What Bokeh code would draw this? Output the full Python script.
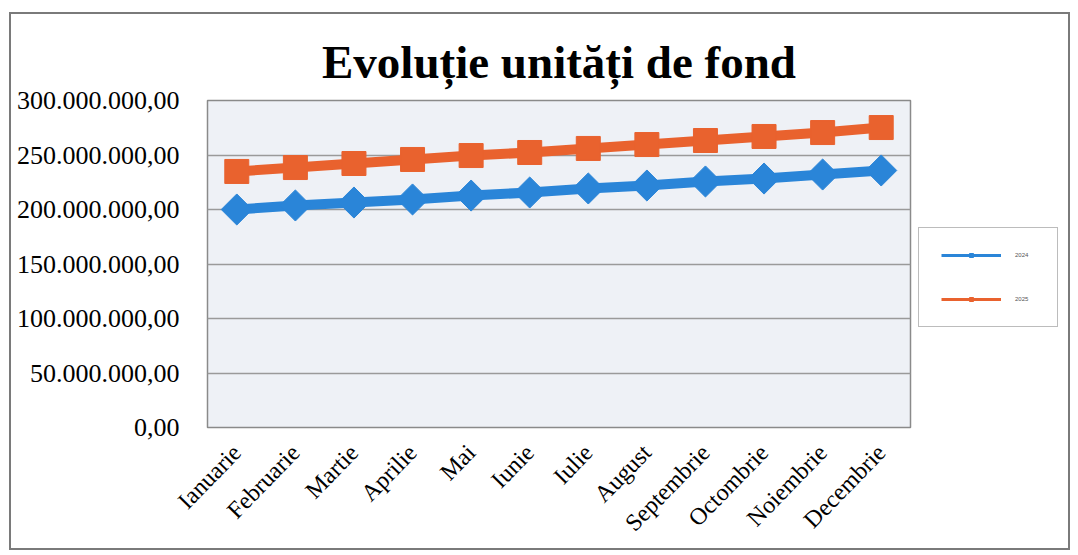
import math
from bokeh.plotting import figure
from bokeh.layouts import row
from bokeh.models import FixedTicker, Legend, LegendItem, ColumnDataSource
from bokeh.embed import file_html
from bokeh.resources import INLINE

months = ["Ianuarie", "Februarie", "Martie", "Aprilie", "Mai", "Iunie",
          "Iulie", "August", "Septembrie", "Octombrie", "Noiembrie", "Decembrie"]
s2024 = [200.0e6, 203.7e6, 206.4e6, 209.2e6, 212.8e6, 215.6e6,
         219.3e6, 222.0e6, 225.7e6, 228.4e6, 232.1e6, 235.8e6]
s2025 = [234.9e6, 238.5e6, 242.2e6, 245.9e6, 249.5e6, 252.3e6,
         256.0e6, 259.6e6, 263.3e6, 267.0e6, 270.6e6, 275.2e6]
series_names = ["2024", "2025"]
y_ticks = [0, 50e6, 100e6, 150e6, 200e6, 250e6, 300e6]
y_tick_labels = ["0,00", "50.000.000,00", "100.000.000,00", "150.000.000,00",
                 "200.000.000,00", "250.000.000,00", "300.000.000,00"]

BLUE = "#2a85d8"
ORANGE = "#e9622e"
SERIF = "Liberation Serif"

p = figure(x_range=months, y_range=(0, 300e6),
           frame_width=703, frame_height=327,
           output_backend="svg", toolbar_location=None,
           min_border_left=196, min_border_right=4,
           min_border_top=86, min_border_bottom=120)

p.title.text = "Evoluție unități de fond"
p.title.text_font = SERIF
p.title.text_font_size = "47px"
p.title.text_font_style = "bold"
p.title.text_color = "black"
p.title.align = "center"
p.title.standoff = 25

p.background_fill_color = "#eef1f6"
p.border_fill_color = "white"
p.outline_line_color = "#8a8a8a"
p.outline_line_width = 1.5

p.xgrid.grid_line_color = None
p.ygrid.grid_line_color = "#9a9a9a"
p.ygrid.grid_line_width = 1.5

p.yaxis.ticker = FixedTicker(ticks=y_ticks)
p.yaxis.major_label_overrides = {t: l for t, l in zip(y_ticks, y_tick_labels)}
p.yaxis.major_label_text_font = SERIF
p.yaxis.major_label_text_font_size = "26px"
p.yaxis.major_label_text_color = "black"
p.yaxis.major_label_standoff = 22
p.yaxis.axis_line_color = None
p.yaxis.major_tick_line_color = None
p.yaxis.minor_tick_line_color = None

p.xaxis.major_label_orientation = 0.8
p.xaxis.major_label_text_font = SERIF
p.xaxis.major_label_text_font_size = "24px"
p.xaxis.major_label_text_color = "black"
p.xaxis.major_label_standoff = 15
p.xaxis.axis_line_color = None
p.xaxis.major_tick_line_color = None

src = ColumnDataSource(dict(m=months, a=s2024, b=s2025))
p.line("m", "a", source=src, line_color=BLUE, line_width=10)
p.scatter("m", "a", source=src, marker="square", angle=math.pi / 4, size=22,
          fill_color=BLUE, line_color=BLUE)
p.line("m", "b", source=src, line_color=ORANGE, line_width=10)
p.scatter("m", "b", source=src, marker="square", size=24,
          fill_color=ORANGE, line_color=ORANGE)

# Legend panel: a small companion figure holding only the legend
lf = figure(x_range=months, y_range=(0, 300e6), width=154, height=533,
            output_backend="svg", toolbar_location=None,
            min_border=0, min_border_left=0, min_border_right=0,
            min_border_top=0, min_border_bottom=0)
lf.axis.visible = False
lf.grid.visible = False
lf.outline_line_color = None
lf.background_fill_color = "white"
lf.border_fill_color = "white"

la = lf.line("m", "a", source=src, line_color=BLUE, line_width=3, visible=False)
lsa = lf.scatter("m", "a", source=src, marker="square", angle=math.pi / 4, size=6,
                 fill_color=BLUE, line_color=BLUE, visible=False)
lb = lf.line("m", "b", source=src, line_color=ORANGE, line_width=3, visible=False)
lsb = lf.scatter("m", "b", source=src, marker="square", size=6,
                 fill_color=ORANGE, line_color=ORANGE, visible=False)

legend = Legend(items=[LegendItem(label=series_names[0], renderers=[la, lsa]),
                       LegendItem(label=series_names[1], renderers=[lb, lsb])],
                location=(4, 99), glyph_width=60, glyph_height=10,
                label_text_font_size="6px", label_text_color="#555555",
                spacing=34, padding=22, margin=0, label_standoff=14,
                border_line_color="#7a7a7a", border_line_width=1.5,
                background_fill_color="white", background_fill_alpha=1.0)
lf.add_layout(legend)

layout = row(p, lf, spacing=0,
             styles={"border": "2px solid #7a7a7a", "margin-left": "9px",
                     "margin-top": "12px", "background-color": "white"})

open("out.html", "w").write(file_html(layout, INLINE))
